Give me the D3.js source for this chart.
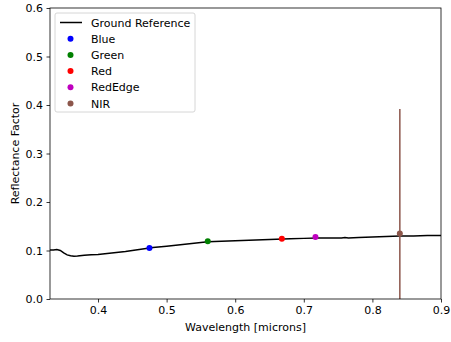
<!DOCTYPE html>
<html>
<head>
<meta charset="utf-8">
<script src="https://cdn.jsdelivr.net/npm/d3@7"></script>
<style>
  body { margin: 0; background: #fff; }
  text { font-family: "DejaVu Sans", sans-serif; }
</style>
</head>
<body>
<script>
'use strict';

// ground reference spectrum
const wavelengths = [0.33, 0.335, 0.34, 0.345, 0.35, 0.355, 0.36, 0.365, 0.37, 0.38, 0.39, 0.40,
  0.42, 0.44, 0.46, 0.48, 0.50, 0.52, 0.54, 0.56, 0.58, 0.60, 0.62, 0.64, 0.66, 0.68, 0.70,
  0.72, 0.74, 0.755, 0.76, 0.765, 0.78, 0.80, 0.82, 0.84, 0.86, 0.88, 0.90];
const reflectance = [0.101, 0.101, 0.102, 0.100, 0.095, 0.091, 0.089, 0.088, 0.0885, 0.090, 0.091, 0.092,
  0.095, 0.098, 0.102, 0.106, 0.109, 0.112, 0.115, 0.118, 0.119, 0.120, 0.121, 0.122, 0.123, 0.124, 0.125,
  0.126, 0.126, 0.126, 0.127, 0.126, 0.127, 0.128, 0.129, 0.130, 0.130, 0.131, 0.131];

// camera bands
const bandNames = ["Blue", "Green", "Red", "RedEdge", "NIR"];
const bandWavelengths = [0.475, 0.560, 0.668, 0.717, 0.840];
const bandValues = [0.105, 0.119, 0.124, 0.128, 0.135];
const bandErrors = [0, 0, 0, 0, 0.257];
const bandColors = ["#0000ff", "#008000", "#ff0000", "#bf00bf", "#8c564b"];

const xTicks = [0.4, 0.5, 0.6, 0.7, 0.8, 0.9];
const yTicks = [0.0, 0.1, 0.2, 0.3, 0.4, 0.5, 0.6];

const W = 451, H = 342;
const plot = { left: 50, right: 441, top: 8, bottom: 299 };
const fs = '11px';

const svg = d3.select('body').append('svg')
  .attr('width', W)
  .attr('height', H);

const x = d3.scaleLinear().domain([0.33, 0.9]).range([plot.left, plot.right]);
const y = d3.scaleLinear().domain([0, 0.6]).range([plot.bottom, plot.top]);

svg.append('clipPath').attr('id', 'clip')
  .append('rect')
  .attr('x', plot.left).attr('y', plot.top)
  .attr('width', plot.right - plot.left).attr('height', plot.bottom - plot.top);

const g = svg.append('g').attr('clip-path', 'url(#clip)');

// ground reference line
const line = d3.line()
  .x((d, i) => x(wavelengths[i]))
  .y(d => y(d));

g.append('path')
  .datum(reflectance)
  .attr('fill', 'none')
  .attr('stroke', 'black')
  .attr('stroke-width', 1.5)
  .attr('d', line);

// error bars
bandNames.forEach((name, i) => {
  if (bandErrors[i] > 0) {
    g.append('line')
      .attr('x1', x(bandWavelengths[i])).attr('x2', x(bandWavelengths[i]))
      .attr('y1', y(bandValues[i] + bandErrors[i]))
      .attr('y2', y(bandValues[i] - bandErrors[i]))
      .attr('stroke', bandColors[i])
      .attr('stroke-width', 1.5);
  }
});

// band points
g.selectAll('circle.band')
  .data(bandNames)
  .enter()
  .append('circle')
  .attr('class', 'band')
  .attr('cx', (d, i) => x(bandWavelengths[i]))
  .attr('cy', (d, i) => y(bandValues[i]))
  .attr('r', 3)
  .attr('fill', (d, i) => bandColors[i]);

// axes
const xAxis = d3.axisBottom(x).tickValues(xTicks).tickFormat(d3.format('.1f')).tickSize(3.5).tickPadding(3.5);
const yAxis = d3.axisLeft(y).tickValues(yTicks).tickFormat(d3.format('.1f')).tickSize(3.5).tickPadding(3.5);

svg.append('g')
  .attr('transform', 'translate(0,' + plot.bottom + ')')
  .call(xAxis)
  .call(a => a.select('.domain').remove());

svg.append('g')
  .attr('transform', 'translate(' + plot.left + ',0)')
  .call(yAxis)
  .call(a => a.select('.domain').remove());

svg.selectAll('.tick text').attr('font-size', fs).attr('font-family', 'DejaVu Sans').attr('fill', '#000');
svg.selectAll('.tick line').attr('stroke', '#000').attr('stroke-width', 0.8);

// frame
svg.append('rect')
  .attr('x', plot.left).attr('y', plot.top)
  .attr('width', plot.right - plot.left).attr('height', plot.bottom - plot.top)
  .attr('fill', 'none')
  .attr('stroke', '#000')
  .attr('stroke-width', 0.8);

// axis labels
svg.append('text')
  .attr('x', (plot.left + plot.right) / 2)
  .attr('y', 331)
  .attr('text-anchor', 'middle')
  .style('font-size', fs)
  .text('Wavelength [microns]');

svg.append('text')
  .attr('transform', 'translate(19,' + ((plot.top + plot.bottom) / 2) + ')rotate(-90)')
  .attr('text-anchor', 'middle')
  .style('font-size', fs)
  .text('Reflectance Factor');

// legend
const legend = svg.append('g').attr('transform', 'translate(55,13)');
legend.append('rect')
  .attr('width', 140).attr('height', 99)
  .attr('rx', 2)
  .attr('fill', '#fff').attr('fill-opacity', 0.8)
  .attr('stroke', '#ccc').attr('stroke-width', 0.8);

const rowH = 16.2;
legend.append('line')
  .attr('x1', 5).attr('x2', 27)
  .attr('y1', 9.5).attr('y2', 9.5)
  .attr('stroke', 'black').attr('stroke-width', 1.5);
legend.append('text')
  .attr('x', 36).attr('y', 13.5)
  .style('font-size', fs)
  .text('Ground Reference');

bandNames.forEach((name, i) => {
  const cy = 9.5 + rowH * (i + 1);
  legend.append('circle')
    .attr('cx', 15.5).attr('cy', cy).attr('r', 3)
    .attr('fill', bandColors[i]);
  legend.append('text')
    .attr('x', 36).attr('y', cy + 4)
    .style('font-size', fs)
    .text(name);
});
</script>
</body>
</html>
